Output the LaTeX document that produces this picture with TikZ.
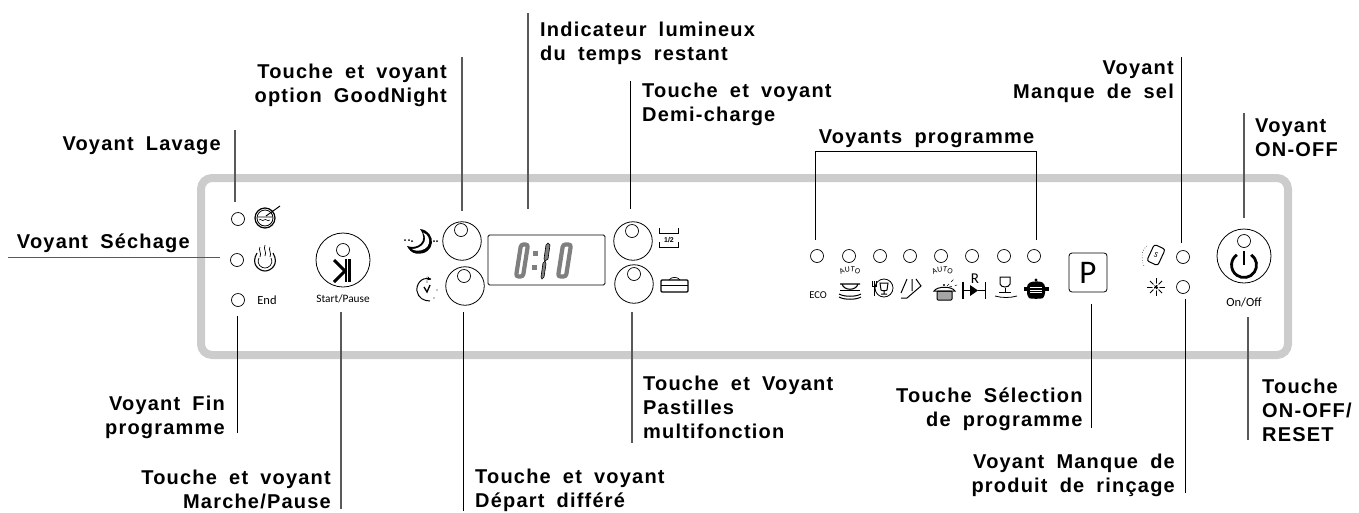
\documentclass[tikz,border=0pt]{standalone}
\usepackage{fontspec}
\setmainfont{Liberation Sans}[LetterSpace=6,WordSpace=1.8]
\newfontfamily\panelfont{Carlito}
\usetikzlibrary{arrows,decorations.text}

\definecolor{panelgray}{HTML}{CCCCCC}
\definecolor{digitgray}{HTML}{7F7F7F}

\tikzset{
  label/.style={inner sep=0pt,yshift=1pt,font=\fontsize{20}{24}\selectfont\bfseries,execute at begin node=\rule{0pt}{15pt}},
  lbright/.style={label,align=right,anchor=north east},
  lbleft/.style={label,align=left,anchor=north west},
  leader/.style={black,line width=0.8pt},
  leadergray/.style={black!65,line width=1.2pt},
  led/.style={circle,draw,line width=0.7pt,minimum size=13pt,inner sep=0pt},
  knob/.style={circle,draw,line width=0.8pt,minimum size=38.5pt,inner sep=0pt},
  bigknob/.style={circle,draw,line width=0.8pt,minimum size=54pt,inner sep=0pt},
  small/.style={inner sep=0pt,font=\panelfont\fontsize{12.5}{14}\selectfont},
  icon/.style={black,line width=0.8pt},
  digit/.style={digitgray,line width=4.2pt,rounded corners=2.5pt}
}

\begin{document}
\begin{tikzpicture}[x=1pt,y=-1pt]
\useasboundingbox (0,0) rectangle (1359,512);

% panel
\draw[panelgray,line width=8pt,rounded corners=11pt] (201,178) rectangle (1288,355);

% labels
\node[lbleft] (temps) at (540,22.7) {Indicateur lumineux\\du temps restant};
\node[lbright] (goodnight) at (447,65) {Touche et voyant\\option GoodNight};
\node[lbleft] (demi) at (642,84) {Touche et voyant\\Demi-charge};
\node[label,anchor=north] (prog) at (926.5,129) {Voyants programme};
\node[lbright] (sel) at (1174,62) {Voyant\\Manque de sel};
\node[lbleft] (onoff) at (1255,120) {Voyant\\ON-OFF};
\node[lbright] (lavage) at (221,136) {Voyant Lavage};
\node[lbright] (sechage) at (190,234) {Voyant Séchage};
\node[lbright] (fin) at (225,397) {Voyant Fin\\programme};
\node[lbright] (marche) at (331,471) {Touche et voyant\\Marche/Pause};
\node[lbleft] (depart) at (475,469.5) {Touche et voyant\\Départ différé};
\node[lbleft] (pastilles) at (643,377) {Touche et Voyant\\Pastilles\\multifonction};
\node[lbright] (selection) at (1082.7,388.7) {Touche Sélection\\de programme};
\node[lbright] (rincage) at (1175,455) {Voyant Manque de\\produit de rinçage};
\node[lbleft] (reset) at (1262,380) {Touche\\ON-OFF/\\RESET};

% leds
\node[led] (ledlavage) at (238,219) {};
\node[led] (ledsechage) at (237,260) {};
\node[led] (ledend) at (238,300) {};
\node[led] (ledsalt) at (1183,257) {};
\node[led] (ledrinse) at (1183,287) {};
\node[led] (ledp1) at (817,256) {};
\node[led] (ledp2) at (849,256) {};
\node[led] (ledp3) at (880,256) {};
\node[led] (ledp4) at (910,256) {};
\node[led] (ledp5) at (941,256) {};
\node[led] (ledp6) at (972,256) {};
\node[led] (ledp7) at (1004,256) {};
\node[led] (ledp8) at (1034,256) {};

% buttons
\node[bigknob] (start) at (343,260) {};
\node[led] (ledstart) at (343,250) {};
\node[knob] (moon) at (462,241) {};
\node[led] (ledmoon) at (461,230) {};
\node[knob] (clock) at (465,286) {};
\node[led] (ledclock) at (464,276) {};
\node[knob] (half) at (633,241) {};
\node[led] (ledhalf) at (632,231) {};
\node[knob] (tablet) at (634,284) {};
\node[led] (ledtablet) at (634,274) {};
\node[bigknob] (power) at (1244,256) {};
\node[led] (ledpower) at (1244,241) {};
\node[draw,line width=0.8pt,rounded corners=3pt,minimum width=38pt,minimum height=39pt,inner sep=0pt,font=\panelfont\fontsize{33}{33}\selectfont] (pbutton) at (1088,272.5) {P};

% small texts
\node[small] (endtext) at (267,300.5) {End};
\node[small,font=\panelfont\fontsize{11.3}{14}\selectfont] (starttext) at (343,299) {Start/Pause};
\node[small] (ontext) at (1244,302) {On/Off};
\node[small,font=\panelfont\fontsize{10.5}{12}\selectfont] (ecotext) at (818,295) {ECO};
\node[small,font=\panelfont\fontsize{15}{15}\selectfont] (rtext) at (975,279) {R};

% leaders
\coordinate (a1) at (528,13);      \coordinate (a2) at (528,209);
\coordinate (b1) at (462,57);      \coordinate (b2) at (462,211);
\coordinate (c1) at (630,81);      \coordinate (c2) at (630,209);
\coordinate (d1) at (815.7,151.7); \coordinate (d2) at (815.7,240);
\coordinate (d3) at (1036,151.7);  \coordinate (d4) at (1036,240);
\coordinate (e1) at (1181.7,57);   \coordinate (e2) at (1181.7,243);
\coordinate (f1) at (1244,113);    \coordinate (f2) at (1244,218);
\coordinate (g1) at (235,130);     \coordinate (g2) at (235,202);
\coordinate (h1) at (8,257.7);     \coordinate (h2) at (220,257.7);
\coordinate (i1) at (237,316);     \coordinate (i2) at (237,433);
\coordinate (j1) at (341,312);     \coordinate (j2) at (341,509);
\coordinate (k1) at (463,312);     \coordinate (k2) at (463,511);
\coordinate (l1) at (632,312);     \coordinate (l2) at (632,443);
\coordinate (m1) at (1091.7,304);  \coordinate (m2) at (1091.7,428);
\coordinate (n1) at (1185.7,299);  \coordinate (n2) at (1185.7,493);
\coordinate (o1) at (1248,317);    \coordinate (o2) at (1248,440);
\draw[leadergray] (a1)--(a2);
\draw[leadergray] (b1)--(b2);
\draw[leader] (c1)--(c2);
\draw[leader] (d2)--(d1)--(d3)--(d4);
\draw[leader] (e1)--(e2);
\draw[leadergray] (f1)--(f2);
\draw[leadergray] (g1)--(g2);
\draw[leadergray] (h1)--(h2);
\draw[leader] (i1)--(i2);
\draw[leadergray] (j1)--(j2);
\draw[leader] (k1)--(k2);
\draw[leadergray] (l1)--(l2);
\draw[leader] (m1)--(m2);
\draw[leader] (n1)--(n2);
\draw[leadergray] (o1)--(o2);

% display
\draw[line width=0.8pt,rounded corners=1.5pt] (488,235) rectangle (605,285);
\draw[digit] (516,276.5)--(521,244.5)--(528,244.5)--(523,276.5)--cycle;
\draw[digit] (558,276.5)--(563,244.5)--(571,244.5)--(566,276.5)--cycle;
\fill[digitgray] (533,251) rectangle (538,256);
\fill[digitgray] (532,265) rectangle (537,270);
\draw[line width=0.6pt,fill=digitgray] (548,243)--(550,245)--(548,259)--(545,261)--(544,259)--(546,245)--cycle;
\draw[line width=0.6pt,fill=digitgray] (545,261)--(546,264)--(544,277)--(542,279)--(541,277)--(543,263)--cycle;

% lavage, sechage
\draw[icon,line width=1.2pt] (265,218) circle (10);
\draw[icon] (265,218) circle (8);
\draw[icon,line width=1pt] (266,216)--(280,206);
\draw[icon,line width=0.6pt] (258,217)--(272,217) (259,220) .. controls (261,218) and (262,222) .. (264,220) .. controls (266,218) and (267,222) .. (270,220);
\draw[icon,line width=1.1pt] (257,253) .. controls (250,265) and (260,271) .. (265,271) .. controls (270,271) and (280,265) .. (273,253);
\draw[icon,line width=0.7pt] (259,258) .. controls (256,265) and (262,268) .. (265,268) .. controls (268,268) and (274,265) .. (271,258);
\draw[icon,line width=0.7pt] (260,247) .. controls (258,250) and (262,253) .. (260,257);
\draw[icon,line width=0.7pt] (265,245) .. controls (263,249) and (267,252) .. (265,256);
\draw[icon,line width=0.7pt] (270,247) .. controls (268,250) and (272,253) .. (270,257);

% start/pause
\draw[black,line width=3pt] (334,260)--(345,271)--(334,282);
\fill[black] (345,259) rectangle (347,282);
\fill[black] (348,259) rectangle (351,282);

% moon, clock
\fill[black] (420,229) .. controls (437,231) and (436,256) .. (416,253.5) .. controls (412,253) and (409,250) .. (407,246) .. controls (418,250) and (429,241) .. (420,229);
\fill[white] (423,232.5) .. controls (433,236) and (431,252) .. (416,250.5) .. controls (414,250) and (413,250) .. (412,249) .. controls (421,249) and (429,241) .. (423,232.5);
\fill[black] (405,240) circle (1) (409,240) circle (1) (412,241) circle (1) (434,241) circle (1) (437,241) circle (1);
\draw[icon,line width=1pt] (431,279) .. controls (420,276) and (416,286) .. (417,291) .. controls (418,298) and (424,301) .. (430,301);
\draw[icon,-stealth,line width=0.8pt] (426,278)--(431,279.5);
\draw[icon,line width=1.3pt] (424,287)--(427,292)--(430,285);
\fill[black] (427,282) circle (0.6) (437,290) circle (0.6) (434,298) circle (0.6);

% half load, tablet
\draw[icon,line width=1pt] (659,228)--(659,233)--(678,233)--(678,228);
\draw[icon,line width=1pt] (659,242)--(659,247)--(678,247)--(678,242);
\node[inner sep=0pt,font=\fontsize{7}{7}\selectfont\bfseries\addfontfeatures{LetterSpace=0}] (halftext) at (669,240) {1/2};
\draw[icon,line width=1.2pt,rounded corners=1pt] (661,280) rectangle (688,292);
\draw[icon,line width=1.2pt] (661,285.5)--(688,285.5);
\draw[icon,line width=0.7pt] (669,280) .. controls (671,276.5) and (678,276.5) .. (680,280);

% programme icons
\path[decorate,decoration={text along path,text align=center,text={|\panelfont\fontsize{8}{8}\selectfont|AUTO}}] (838,278) .. controls (843,270) and (857,270) .. (862,278);
\path[decorate,decoration={text along path,text align=center,text={|\panelfont\fontsize{8}{8}\selectfont|AUTO}}] (930,278) .. controls (936,270) and (949,270) .. (955,278);
% cup
\draw[icon,line width=1.1pt] (840,284)--(860,284) (842,284) .. controls (844,291) and (856,291) .. (858,284);
\draw[icon,line width=1pt] (840,290)--(860,290);
\draw[icon,line width=1pt] (839,294) .. controls (844,297) and (856,297) .. (861,294);
\draw[icon,line width=1pt] (839,297) .. controls (844,300) and (856,300) .. (861,297);
% plate
\draw[icon] (884,288) circle (9);
\draw[icon,line width=1pt] (880,283)--(888,283)--(887,290) .. controls (886,291) and (882,291) .. (881,290)--cycle (884,291)--(884,294) (881,294)--(887,294);
\draw[icon,line width=1pt] (874,281)--(874,296) (872,281)--(872,286)--(876,286)--(876,281);
% quick
\draw[icon,line width=1pt] (907,279)--(901,293) (912,279)--(912,291) (916,279)--(921,286)--(907,298)--(901,298);
% pot
\draw[icon,line width=1pt,rounded corners=1pt,fill=digitgray!70] (937,291) rectangle (952,300);
\draw[icon,line width=1pt] (934,291) .. controls (937,286) and (952,286) .. (955,291)--cycle;
\fill[black] (944,285) circle (1.2);
\draw[icon,line width=0.5pt,dashed] (947,286)--(954,279) (949,287)--(957,285);
% rinse
\draw[black,line width=2pt] (963,282)--(963,299);
\draw[black,line width=1.5pt] (963,290.5)--(972,290.5);
\fill[black] (970,285)--(978,290.5)--(970,296)--cycle;
\draw[icon] (978,290.5)--(985,290.5) (985,282)--(985,299);
% glass
\draw[icon,line width=1pt] (1000,277)--(1000,284) .. controls (1001,288) and (1009,288) .. (1010,284)--(1010,277)--cycle;
\draw[icon,line width=1pt] (1005,288)--(1005,292) (999,292)--(1011,292);
\draw[icon] (995,296) .. controls (1002,298) and (1010,298) .. (1017,296);
% black pot
\fill[black,rounded corners=3pt] (1027,284) .. controls (1033,281) and (1040,281) .. (1045,284)--(1045,296) .. controls (1042,299) and (1030,299) .. (1027,296)--cycle;
\fill[black] (1024,287) rectangle (1049,291);
\fill[black] (1036,280) circle (1.6);
\draw[white,line width=0.7pt] (1030,287.5)--(1042,287.5) (1030,290)--(1042,290) (1030,292.5)--(1042,292.5);

% salt, rinse aid
\draw[icon,line width=1pt,rounded corners=2.5pt,rotate around={-25:(1156,255)}] (1150,246) rectangle (1162,264);
\node[inner sep=0pt,font=\panelfont\fontsize{8}{8}\selectfont,rotate=-25] (salttext) at (1156,255) {S};
\draw[icon,line width=0.6pt,dotted] (1147,246) .. controls (1141,250) and (1141,260) .. (1144,266);
\draw[icon,line width=0.9pt] (1156,278)--(1156,296) (1147,287)--(1165,287);
\draw[icon,line width=0.9pt] (1150,281)--(1162,293) (1162,281)--(1150,293);
\draw[white,line width=1.2pt] (1156,287) circle (3);

% power
\draw[black,line width=2.8pt] (1251.2,254.8) arc[start angle=305,end angle=595,radius=12.5];
\draw[black,line width=2.5pt] (1244,251)--(1244,265);
\end{tikzpicture}
\end{document}
